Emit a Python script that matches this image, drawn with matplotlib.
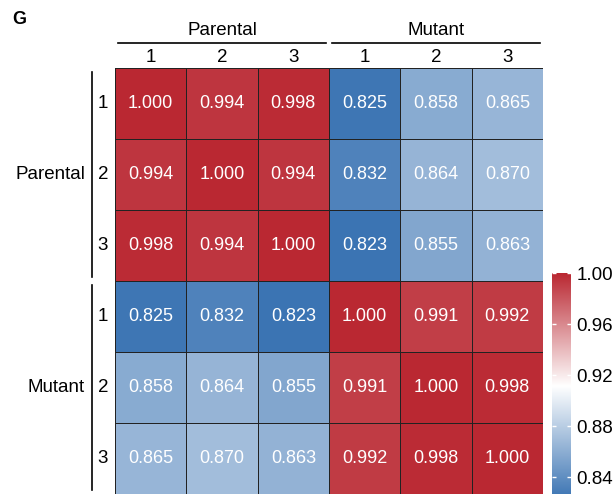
import numpy as np
import matplotlib.pyplot as plt
from matplotlib.colors import LinearSegmentedColormap, Normalize
from matplotlib.lines import Line2D

plt.rcParams['font.family'] = ['Liberation Sans', 'DejaVu Sans']

groups = ["Parental", "Mutant"]
replicates = ["1", "2", "3"]
corr = np.array([
    [1.000, 0.994, 0.998, 0.825, 0.858, 0.865],
    [0.994, 1.000, 0.994, 0.832, 0.864, 0.870],
    [0.998, 0.994, 1.000, 0.823, 0.855, 0.863],
    [0.825, 0.832, 0.823, 1.000, 0.991, 0.992],
    [0.858, 0.864, 0.855, 0.991, 1.000, 0.998],
    [0.865, 0.870, 0.863, 0.992, 0.998, 1.000],
])
cbar_ticks = [0.84, 0.88, 0.92, 0.96, 1.00]

W, H = 616, 494
fig = plt.figure(figsize=(W / 100, H / 100), dpi=100)


def px_axes(x0, y0, x1, y1):
    return fig.add_axes([x0 / W, 1 - y1 / H, (x1 - x0) / W, (y1 - y0) / H])


cmap = LinearSegmentedColormap.from_list("bwr_corr", ["#3B74B3", "#FFFFFF", "#BA2832"])
vmin, vmax = corr.min(), corr.max()
norm = Normalize(vmin=vmin, vmax=vmax)

LABEL_FS = 13.5
CELL_FS = 13

n = corr.shape[0]
ax = px_axes(115, 68, 543, 494)
ax.pcolormesh(corr, cmap=cmap, norm=norm, edgecolors="#222222", linewidth=0.7)
ax.set_xlim(0, n)
ax.set_ylim(n, 0)
ax.set_axis_off()
for i in range(n):
    for j in range(n):
        ax.text(j + 0.5, i + 0.5, f"{corr[i, j]:.3f}", ha="center", va="center",
                color="white", fontsize=CELL_FS)

# column annotations
ax_top = px_axes(115, 0, 543, 68)
ax_top.set_xlim(0, n)
ax_top.set_ylim(68, 0)
ax_top.set_axis_off()
for g, name in enumerate(groups):
    x0 = g * 3
    ax_top.add_line(Line2D([x0 + 0.04, x0 + 2.96], [43, 43], color="black", lw=1.2))
    ax_top.text(x0 + 1.5, 39, name, ha="center", va="bottom", fontsize=LABEL_FS)
    for k, r in enumerate(replicates):
        ax_top.text(x0 + k + 0.5, 57, r, ha="center", va="center", fontsize=LABEL_FS)

# row annotations
ax_left = px_axes(0, 68, 115, 494)
ax_left.set_xlim(0, 115)
ax_left.set_ylim(n, 0)
ax_left.set_axis_off()
for g, name in enumerate(groups):
    y0 = g * 3
    ax_left.add_line(Line2D([92, 92], [y0 + 0.05, y0 + 2.95], color="black", lw=1.2))
    ax_left.text(85, y0 + 1.5, name, ha="right", va="center", fontsize=LABEL_FS)
    for k, r in enumerate(replicates):
        ax_left.text(103, y0 + k + 0.5, r, ha="center", va="center", fontsize=LABEL_FS)

# colour scale
cax = px_axes(552, 273, 571, 499)
grad = np.linspace(vmin, vmax, 256).reshape(-1, 1)
cax.imshow(grad, cmap=cmap, norm=norm, aspect="auto", origin="lower",
           extent=[0, 1, vmin, vmax])
cax.set_xlim(0, 1)
cax.set_ylim(vmin, vmax)
cax.set_xticks([])
cax.set_yticks(cbar_ticks)
cax.set_yticklabels([f"{t:.2f}" for t in cbar_ticks], fontsize=LABEL_FS)
cax.yaxis.tick_right()
cax.tick_params(axis="y", direction="in", color="white", length=3, width=1,
                left=True, right=True, pad=4)
for s in cax.spines.values():
    s.set_visible(False)

fig.text(12 / W, 1 - 19 / H, "G", fontsize=13, fontweight="bold", ha="left", va="center")

fig.savefig("out.png", dpi=100)
